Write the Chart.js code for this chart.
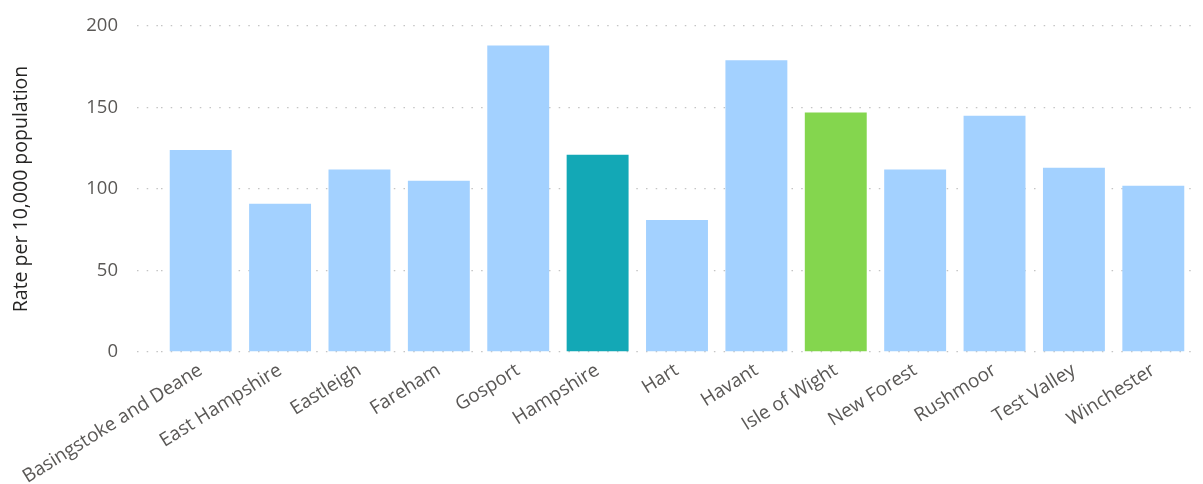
<!DOCTYPE html>
<html>
<head>
<meta charset="utf-8">
<script src="https://cdn.jsdelivr.net/npm/chart.js@4/dist/chart.umd.min.js"></script>
<style>
  html, body { margin: 0; padding: 0; background: #fff; }
  .wrap { width: 1203px; height: 484px; }
</style>
</head>
<body>
<div class="wrap"><canvas id="chart"></canvas></div>
<script>
const areas = ['Basingstoke and Deane', 'East Hampshire', 'Eastleigh', 'Fareham', 'Gosport', 'Hampshire',
  'Hart', 'Havant', 'Isle of Wight', 'New Forest', 'Rushmoor', 'Test Valley', 'Winchester'];
const rates = [124, 91, 112, 105, 188, 121, 81, 179, 147, 112, 145, 113, 102];
const yTicks = [0, 50, 100, 150, 200];

const BLUE = '#a3d1ff', TEAL = '#13a8b6', GREEN = '#84d64e';
const barColors = areas.map(a => a === 'Hampshire' ? TEAL : a === 'Isle of Wight' ? GREEN : BLUE);
const DOTS = [1.5, 8.2];

Chart.defaults.font.family = '"Open Sans", "Noto Sans", sans-serif';
Chart.defaults.color = '#5a5856';

new Chart(document.getElementById('chart'), {
  type: 'bar',
  data: {
    labels: areas,
    datasets: [{
      label: 'Rate per 10,000 population',
      data: rates,
      backgroundColor: barColors,
      categoryPercentage: 1,
      barPercentage: 0.78,
    }],
  },
  options: {
    responsive: true,
    maintainAspectRatio: false,
    animation: false,
    layout: { padding: { left: 0, right: 10, top: 26, bottom: 0 } },
    plugins: { legend: { display: false }, tooltip: { enabled: false } },
    scales: {
      x: {
        grid: { display: false },
        border: { display: false },
        ticks: { minRotation: 32, maxRotation: 32, padding: -1, font: { size: 19 }, color: '#5a5856' },
        afterFit: s => { s.height = 132; s.paddingLeft = 0; s.paddingRight = 0; },
      },
      y: {
        min: 0, max: 200,
        afterBuildTicks: s => { s.ticks = yTicks.map(v => ({ value: v })); },
        border: { display: false, dash: DOTS },
        grid: {
          color: '#c4c4c4', lineWidth: 1.3,
          tickLength: 24, tickColor: '#c4c4c4', tickWidth: 1.3, tickBorderDash: DOTS,
        },
        ticks: { padding: 19, font: { size: 18.5 }, color: '#5a5856' },
        title: {
          display: true, text: 'Rate per 10,000 population',
          color: '#252423', font: { size: 19.5 }, padding: { top: 10, bottom: 0 },
        },
        afterFit: s => { s.width = 161; s.paddingTop = 0; s.paddingBottom = 0; },
      },
    },
  },
});
</script>
</body>
</html>
